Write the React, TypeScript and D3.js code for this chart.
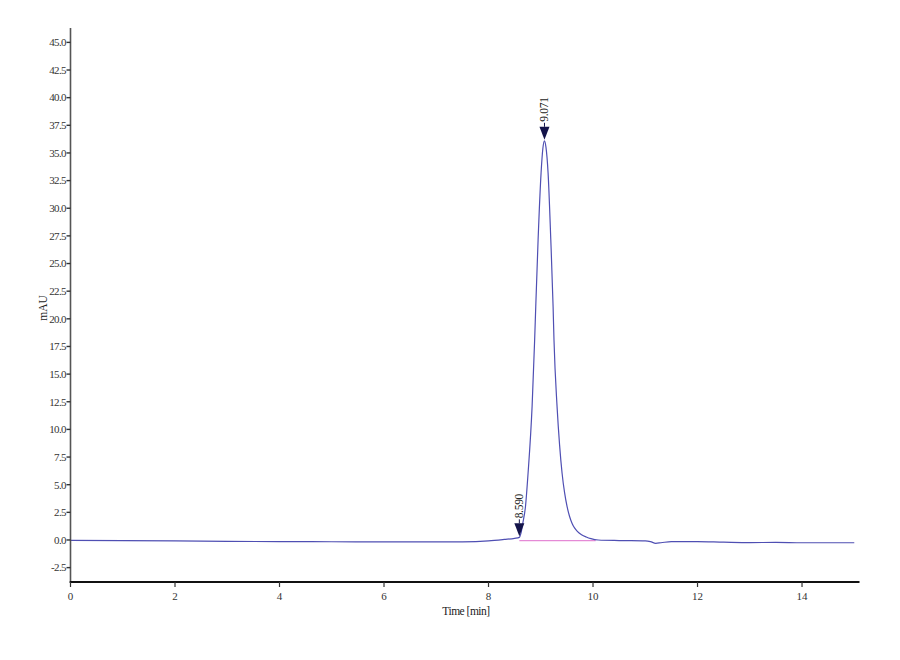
import React from "react";
import * as d3 from "d3";

const times = [0, 1, 2, 3, 4, 5, 6, 7, 7.5, 8.0, 8.3, 8.5, 8.59, 8.62, 8.656, 8.707, 8.757, 8.834, 8.883, 8.904, 8.949, 9.006, 9.04, 9.071, 9.10, 9.14, 9.192, 9.236, 9.253, 9.312, 9.36, 9.408, 9.455, 9.504, 9.55, 9.6, 9.65, 9.7, 9.78, 9.87, 9.96, 10.1, 10.5, 11.0, 11.1, 11.2, 11.3, 11.5, 12.0, 12.5, 13.0, 13.5, 14.0, 15.0];
const signal = [-0.03, -0.05, -0.08, -0.12, -0.15, -0.16, -0.18, -0.18, -0.17, -0.08, 0.05, 0.15, 0.24, 0.6, 1.51, 3.01, 6.04, 12.06, 18.1, 21.1, 27.15, 33.2, 35.4, 36.1, 35.5, 33.2, 27.15, 21.1, 18.1, 12.06, 8.6, 6.04, 4.3, 3.01, 2.15, 1.5, 1.07, 0.78, 0.48, 0.27, 0.12, 0.0, -0.05, -0.08, -0.15, -0.3, -0.25, -0.14, -0.15, -0.2, -0.24, -0.22, -0.25, -0.25];

const peakTimes = [8.59, 9.071];
const peakValues = [0.24, 36.1];
const peakLabels = ["8.590", "9.071"];

const baselineStart = 8.59;
const baselineEnd = 10.05;
const baselineValue = -0.05;

const yTicks = [-2.5, 0, 2.5, 5, 7.5, 10, 12.5, 15, 17.5, 20, 22.5, 25, 27.5, 30, 32.5, 35, 37.5, 40, 42.5, 45];
const xTicks = [0, 2, 4, 6, 8, 10, 12, 14];

export default function App() {
  const x = d3.scaleLinear().domain([0, 15.1]).range([70.5, 859.5]);
  const y = d3.scaleLinear().domain([-3.8, 46.3]).range([582, 28]);
  const pts = times.map((t, i) => [t, signal[i]] as [number, number]);
  const line = d3
    .line<[number, number]>()
    .x((d) => x(d[0]))
    .y((d) => y(d[1]))
    .curve(d3.curveMonotoneX);
  const font = "'Liberation Serif', 'Times New Roman', serif";
  return (
    <svg
      width={900}
      height={660}
      style={{ position: "absolute", left: 0, top: 0, background: "#fff" }}
      fontFamily={font}
    >
      {/* baseline */}
      <line
        x1={x(baselineStart)}
        x2={x(baselineEnd)}
        y1={y(baselineValue)}
        y2={y(baselineValue)}
        stroke="#e58ad6"
        strokeWidth={1.2}
      />
      {/* trace */}
      <path d={line(pts) || ""} fill="none" stroke="#4f4fb3" strokeWidth={1.2} />
      {/* peak markers */}
      {peakTimes.map((t, i) => {
        const px = x(t);
        const py = y(peakValues[i]) - 1;
        return (
          <g key={i}>
            <path
              d={`M${px - 5},${py - 13} L${px + 5},${py - 13} L${px},${py} Z`}
              fill="#14144a"
            />
            <line x1={px} x2={px} y1={py - 13} y2={py - 17} stroke="#14144a" strokeWidth={1} />
            <text
              transform={`translate(${px + 4},${py - 18}) rotate(-90)`}
              fontSize={11.5}
              fill="#222"
              letterSpacing={-0.3}
            >
              {peakLabels[i]}
            </text>
          </g>
        );
      })}
      {/* y axis */}
      <line x1={70.5} x2={70.5} y1={28} y2={583} stroke="#555" strokeWidth={1.6} />
      {yTicks.map((v) => (
        <g key={v} transform={`translate(0,${y(v)})`}>
          <line x1={66.5} x2={70.5} y1={0} y2={0} stroke="#333" strokeWidth={1.4} />
          <text x={66} y={3.8} textAnchor="end" fontSize={11} letterSpacing={-0.6} fill="#333">
            {v.toFixed(1)}
          </text>
        </g>
      ))}
      {/* x axis */}
      <line x1={69.7} x2={859.5} y1={582} y2={582} stroke="#111" strokeWidth={2} />
      {xTicks.map((v) => (
        <g key={v} transform={`translate(${x(v)},0)`}>
          <line x1={0} x2={0} y1={582} y2={587} stroke="#333" strokeWidth={1.2} />
          <text x={0} y={600} textAnchor="middle" fontSize={11} fill="#333">
            {v}
          </text>
        </g>
      ))}
      <text x={466} y={615} textAnchor="middle" fontSize={11.5} letterSpacing={-0.5} fill="#222">
        Time [min]
      </text>
      <text
        transform={`translate(47,308) rotate(-90)`}
        textAnchor="middle"
        fontSize={11.5}
        fill="#222"
      >
        mAU
      </text>
    </svg>
  );
}
